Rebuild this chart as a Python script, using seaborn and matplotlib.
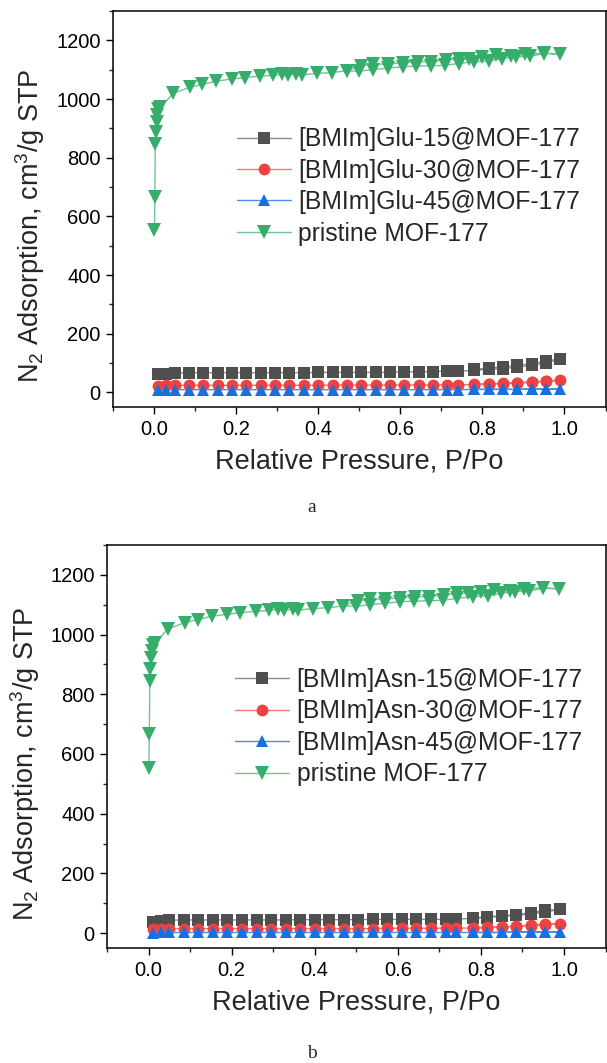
import numpy as np
import pandas as pd
import matplotlib
matplotlib.use('Agg')
import matplotlib.pyplot as plt
import seaborn as sns
from matplotlib.ticker import MultipleLocator

# ---------------- data ----------------
# pristine MOF-177 (same in both panels): adsorption branch then desorption branch
green_ads_x = [0.001, 0.002, 0.003, 0.004, 0.006, 0.008, 0.010, 0.015, 0.047, 0.087,
               0.118, 0.152, 0.189, 0.221, 0.258, 0.290, 0.311, 0.327, 0.347, 0.360,
               0.396, 0.433, 0.469, 0.500, 0.533, 0.569, 0.606, 0.638, 0.674, 0.709,
               0.743, 0.780, 0.816, 0.848, 0.881, 0.917, 0.950, 0.988]
green_ads_y = [553, 667, 845, 886, 922, 945, 965, 972, 1019, 1040,
               1050, 1061, 1068, 1073, 1078, 1081, 1084, 1082, 1085, 1082,
               1087, 1090, 1096, 1095, 1100, 1105, 1110, 1112, 1113, 1115,
               1121, 1127, 1130, 1138, 1144, 1146, 1155, 1153]
green_des_x = [0.950, 0.905, 0.869, 0.832, 0.800, 0.768, 0.743, 0.711, 0.674, 0.642,
               0.606, 0.570, 0.533, 0.504, 0.469]
green_des_y = [1157, 1153, 1146, 1149, 1143, 1138, 1138, 1134, 1127, 1127,
               1124, 1119, 1119, 1113, 1097]

# composite samples: shared relative pressures
low_ads_x = [0.010, 0.030, 0.050, 0.085, 0.120, 0.155, 0.190, 0.225, 0.260, 0.295,
             0.330, 0.365, 0.400, 0.435, 0.470, 0.505, 0.540, 0.575, 0.610, 0.645,
             0.680, 0.715, 0.740, 0.780, 0.815, 0.850, 0.885, 0.920, 0.955, 0.990]
low_des_x = [0.955, 0.920, 0.885, 0.850, 0.815, 0.780]

# panel a: [BMIm]Glu
glu15_ads = [61, 64, 66, 67, 67, 67, 67, 67, 67, 67, 67, 67, 68, 68, 68,
             68, 68, 68, 70, 70, 71, 72, 72, 75, 78, 81, 86, 92, 100, 115]
glu15_des = [106, 98, 92, 87, 83, 78]
glu30_ads = [22, 24, 24, 24, 24, 24, 24, 24, 24, 24, 24, 24, 24, 25, 25,
             25, 25, 25, 25, 25, 25, 26, 26, 26, 28, 30, 31, 34, 37, 42]
glu30_des = [39, 36, 33, 31, 29, 27]
glu45_ads = [8, 9, 9, 9, 9, 9, 9, 9, 9, 9, 9, 9, 9, 9, 9,
             9, 9, 9, 9, 9, 9, 9, 9, 10, 10, 10, 10, 11, 11, 12]
glu45_des = [11, 11, 10, 10, 10, 10]

# panel b: [BMIm]Asn
asn15_ads = [38, 42, 43, 44, 44, 44, 44, 44, 44, 44, 44, 45, 45, 45, 45,
             45, 46, 46, 46, 46, 46, 46, 47, 49, 52, 56, 59, 64, 70, 80]
asn15_des = [76, 68, 62, 58, 55, 50]
asn30_ads = [14, 15, 15, 15, 15, 15, 15, 15, 15, 15, 15, 15, 15, 15, 15,
             15, 15, 16, 16, 16, 16, 16, 16, 17, 18, 20, 22, 25, 28, 32]
asn30_des = [30, 27, 24, 21, 19, 18]
asn45_ads = [1, 2, 2, 2, 2, 2, 2, 2, 2, 2, 2, 2, 2, 2, 2,
             2, 2, 2, 2, 2, 2, 2, 2, 2, 2, 2, 3, 3, 3, 4]
asn45_des = [3, 3, 3, 2, 2, 2]

labels_a = ['[BMIm]Glu-15@MOF-177', '[BMIm]Glu-30@MOF-177', '[BMIm]Glu-45@MOF-177', 'pristine MOF-177']
labels_b = ['[BMIm]Asn-15@MOF-177', '[BMIm]Asn-30@MOF-177', '[BMIm]Asn-45@MOF-177', 'pristine MOF-177']

x_ticks = [0.0, 0.2, 0.4, 0.6, 0.8, 1.0]
y_ticks = [0, 200, 400, 600, 800, 1000, 1200]

# ---------------- style ----------------
sns.set_theme(style='ticks')
plt.rcParams['font.family'] = ['Liberation Sans', 'DejaVu Sans']
plt.rcParams['mathtext.fontset'] = 'custom'
plt.rcParams['mathtext.rm'] = 'Liberation Sans'
plt.rcParams['mathtext.it'] = 'Liberation Sans:italic'
plt.rcParams['mathtext.bf'] = 'Liberation Sans:bold'
plt.rcParams['mathtext.default'] = 'regular'

marker_cols = ['#4f4f4f', '#f14040', '#1a6fdf', '#37ad6b']
line_cols = ['#8c8c8c', '#f37a7a', '#4a8ee6', '#6fc495']
markers = ['s', 'o', '^', 'v']
msizes = [8.3, 8.5, 9.0, 9.5]

fig = plt.figure(figsize=(6.07, 10.63), dpi=100)
ax1 = fig.add_axes([113 / 607, 1 - 407 / 1063, 492.5 / 607, 396 / 1063])
ax2 = fig.add_axes([107 / 607, 1 - 948 / 1063, 498.5 / 607, 403 / 1063])


def draw(ax, series, labels, anchor, ylab_x):
    for i, (xs, ys) in enumerate(series):
        df = pd.DataFrame({'x': xs, 'y': ys})
        sns.lineplot(data=df, x='x', y='y', ax=ax, sort=False, estimator=None,
                     color=line_cols[i], lw=1.0, marker=markers[i], markersize=msizes[i],
                     markerfacecolor=marker_cols[i], markeredgecolor=marker_cols[i],
                     markeredgewidth=0, label=labels[i])
    ax.set_xlim(-0.1, 1.1)
    ax.set_ylim(-50, 1300)
    ax.set_xticks(x_ticks)
    ax.set_yticks(y_ticks)
    ax.set_xticklabels([f'{v:.1f}' for v in x_ticks])
    ax.set_yticklabels([str(v) for v in y_ticks])
    ax.xaxis.set_minor_locator(MultipleLocator(0.1))
    ax.yaxis.set_minor_locator(MultipleLocator(100))
    ax.tick_params(which='major', direction='out', length=5, width=1, labelsize=14.5,
                   pad=4, colors='black', top=False, right=False)
    ax.tick_params(which='minor', direction='out', length=3, width=1,
                   top=False, right=False)
    for s in ax.spines.values():
        s.set_visible(True)
        s.set_linewidth(1.1)
        s.set_color('black')
    ax.set_xlabel('Relative Pressure, P/Po', fontsize=19.5, labelpad=7)
    ax.set_ylabel(r'N$_2$ Adsorption, cm$^3$/g STP', fontsize=19.5)
    ax.yaxis.set_label_coords(ylab_x, 0.457)
    ax.legend(loc='center left', bbox_to_anchor=anchor, frameon=False, fontsize=17.8,
              handlelength=2.2, handletextpad=0.3, labelspacing=0.3,
              borderpad=0, borderaxespad=0)


series_a = [(low_ads_x + low_des_x, glu15_ads + glu15_des),
            (low_ads_x + low_des_x, glu30_ads + glu30_des),
            (low_ads_x + low_des_x, glu45_ads + glu45_des),
            (green_ads_x + green_des_x, green_ads_y + green_des_y)]
series_b = [(low_ads_x + low_des_x, asn15_ads + asn15_des),
            (low_ads_x + low_des_x, asn30_ads + asn30_des),
            (low_ads_x + low_des_x, asn45_ads + asn45_des),
            (green_ads_x + green_des_x, green_ads_y + green_des_y)]

draw(ax1, series_a, labels_a, (0.251, 0.557), -0.134)
draw(ax2, series_b, labels_b, (0.2565, 0.548), -0.130)

fig.text(312 / 607, 1 - 508 / 1063, 'a', family='Liberation Serif', fontsize=14,
         ha='center', va='center')
fig.text(312 / 607, 1 - 1053 / 1063, 'b', family='Liberation Serif', fontsize=14,
         ha='center', va='center')

fig.savefig('out.png', dpi=100, facecolor='white')
